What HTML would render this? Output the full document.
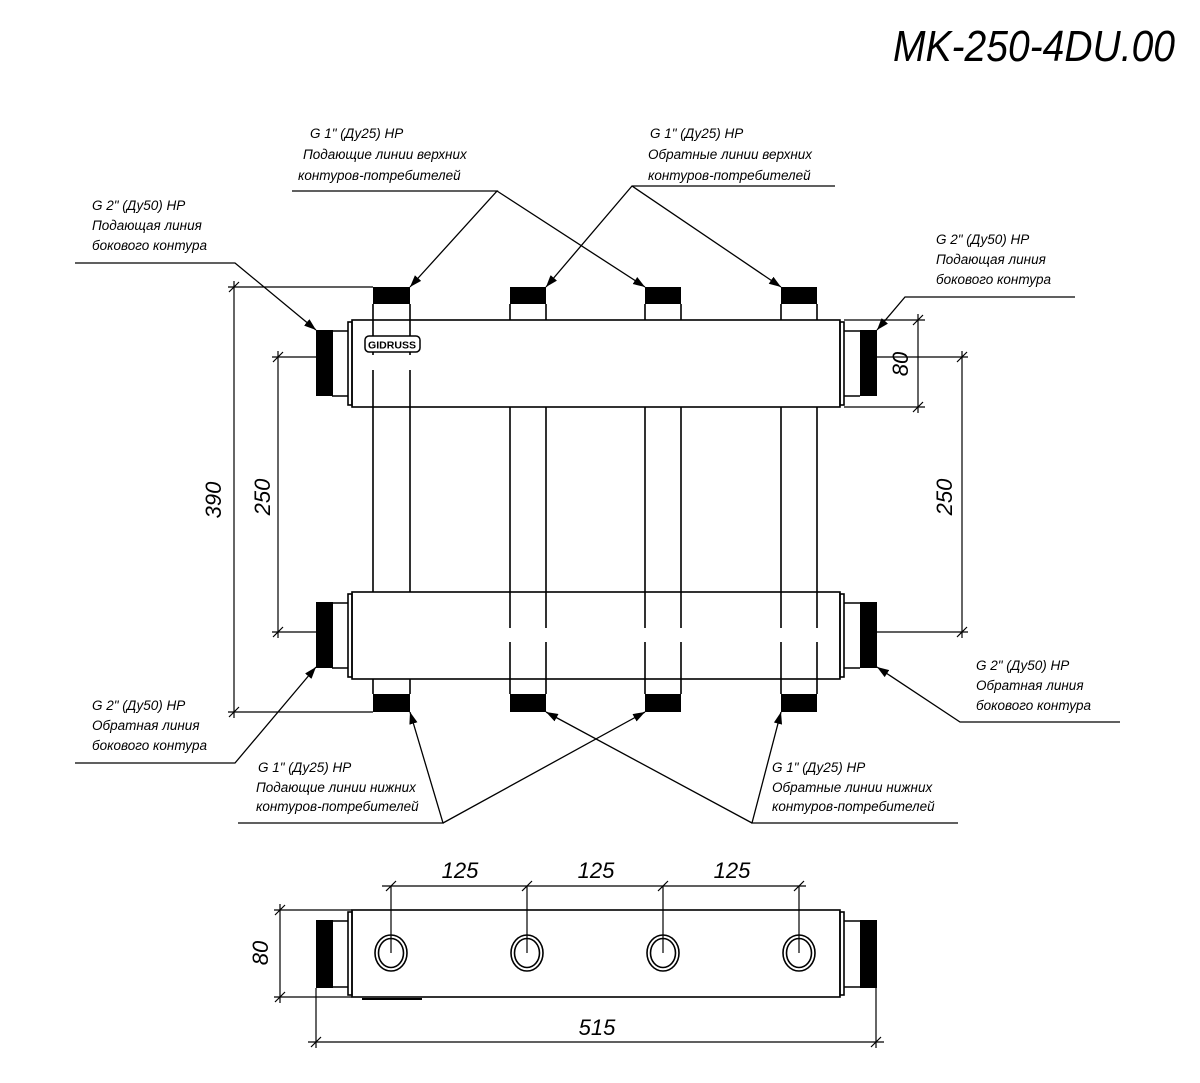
<!DOCTYPE html>
<html><head><meta charset="utf-8"><style>
html,body{margin:0;padding:0;background:#fff;}
svg{display:block;}
text{font-family:"Liberation Sans","DejaVu Sans",sans-serif;font-style:italic;fill:#000;}
.t{font-size:13.5px;}
.d{font-size:22px;}
</style></head><body>
<svg width="1200" height="1083" viewBox="0 0 1200 1083" xmlns="http://www.w3.org/2000/svg">
<defs>
<marker id="a" viewBox="0 0 10 10" refX="10" refY="5" markerWidth="12" markerHeight="12" markerUnits="userSpaceOnUse" orient="auto"><path d="M0,1.5 L10,5 L0,8.5 z" fill="#000"/></marker>
</defs>
<text x="893" y="61" font-size="44" textLength="282" lengthAdjust="spacingAndGlyphs" style="font-weight:normal">MK-250-4DU.00</text>

<g stroke="#000" stroke-width="1.6" fill="none">
<rect x="352" y="320" width="488" height="87" fill="#fff"/>
<rect x="348" y="322" width="4" height="83"/>
<rect x="840" y="322" width="4" height="83"/>
<rect x="352" y="592" width="488" height="87" fill="#fff"/>
<rect x="348" y="594" width="4" height="83"/>
<rect x="840" y="594" width="4" height="83"/>
<path d="M332,331 H348 M332,396 H348 M844,331 H860 M844,396 H860 M332,603 H348 M332,668 H348 M844,603 H860 M844,668 H860"/>
</g>
<g fill="#000">
<rect x="316" y="330" width="17" height="66"/>
<rect x="860" y="330" width="17" height="66"/>
<rect x="316" y="602" width="17" height="66"/>
<rect x="860" y="602" width="17" height="66"/>
<rect x="373" y="287" width="37" height="17"/>
<rect x="510" y="287" width="36" height="17"/>
<rect x="645" y="287" width="36" height="17"/>
<rect x="781" y="287" width="36" height="17"/>
<rect x="373" y="694" width="37" height="18"/>
<rect x="510" y="694" width="36" height="18"/>
<rect x="645" y="694" width="36" height="18"/>
<rect x="781" y="694" width="36" height="18"/>
</g>
<g stroke="#000" stroke-width="1.6">
<path d="M373,304 V355 M373,370 V592 M373,679 V694 M410,304 V355 M410,370 V592 M410,679 V694"/>
<path d="M510,304 V320 M510,407 V628 M510,642 V694 M546,304 V320 M546,407 V628 M546,642 V694"/>
<path d="M645,304 V320 M645,407 V628 M645,642 V694 M681,304 V320 M681,407 V628 M681,642 V694"/>
<path d="M781,304 V320 M781,407 V628 M781,642 V694 M817,304 V320 M817,407 V628 M817,642 V694"/>
</g>
<rect x="365" y="336" width="55" height="16" rx="4" fill="#fff" stroke="#000" stroke-width="1.5"/>
<text x="368" y="348.5" font-size="10" style="font-weight:bold;font-style:normal" textLength="48" lengthAdjust="spacingAndGlyphs">GIDRUSS</text>

<g stroke="#000" stroke-width="1.2" fill="none">
<path d="M228,287 H373 M228,712 H373 M234,281 V718"/>
<path d="M229,292 L239,282 M229,717 L239,707"/>
<path d="M272,357 H316 M272,632 H316 M278,351 V638"/>
<path d="M273,362 L283,352 M273,637 L283,627"/>
<path d="M844,320 H925 M844,407 H925 M918,314 V413"/>
<path d="M913,325 L923,315 M913,412 L923,402"/>
<path d="M877,357 H968 M877,632 H968 M962,351 V638"/>
<path d="M957,362 L967,352 M957,637 L967,627"/>
</g>
<text class="d" transform="translate(221,500) rotate(-90)" text-anchor="middle">390</text>
<text class="d" transform="translate(270,497) rotate(-90)" text-anchor="middle">250</text>
<text class="d" transform="translate(908,364) rotate(-90)" text-anchor="middle">80</text>
<text class="d" transform="translate(952,497) rotate(-90)" text-anchor="middle">250</text>

<g stroke="#000" stroke-width="1.3" fill="none">
<path d="M75,263 H235 L316,330" marker-end="url(#a)"/>
<path d="M292,191 H497 L410,287" marker-end="url(#a)"/>
<path d="M497,191 L645,287" marker-end="url(#a)"/>
<path d="M835,186 H632 L546,287" marker-end="url(#a)"/>
<path d="M632,186 L781,287" marker-end="url(#a)"/>
<path d="M1075,297 H905 L877,330" marker-end="url(#a)"/>
<path d="M75,763 H235 L316,667" marker-end="url(#a)"/>
<path d="M238,823 H443 L410,712" marker-end="url(#a)"/>
<path d="M443,823 L645,712" marker-end="url(#a)"/>
<path d="M958,823 H752 L781,712" marker-end="url(#a)"/>
<path d="M752,823 L546,712" marker-end="url(#a)"/>
<path d="M1120,722 H960 L877,667" marker-end="url(#a)"/>
</g>
<text class="t" x="92" y="210">G 2" (Ду50) НР</text>
<text class="t" x="92" y="230">Подающая линия</text>
<text class="t" x="92" y="250">бокового контура</text>
<text class="t" x="310" y="138">G 1" (Ду25) НР</text>
<text class="t" x="303" y="159">Подающие линии верхних</text>
<text class="t" x="298" y="180">контуров-потребителей</text>
<text class="t" x="650" y="138">G 1" (Ду25) НР</text>
<text class="t" x="648" y="159">Обратные линии верхних</text>
<text class="t" x="648" y="180">контуров-потребителей</text>
<text class="t" x="936" y="244">G 2" (Ду50) НР</text>
<text class="t" x="936" y="264">Подающая линия</text>
<text class="t" x="936" y="284">бокового контура</text>
<text class="t" x="92" y="710">G 2" (Ду50) НР</text>
<text class="t" x="92" y="730">Обратная линия</text>
<text class="t" x="92" y="750">бокового контура</text>
<text class="t" x="258" y="772">G 1" (Ду25) НР</text>
<text class="t" x="256" y="792">Подающие линии нижних</text>
<text class="t" x="256" y="811">контуров-потребителей</text>
<text class="t" x="772" y="772">G 1" (Ду25) НР</text>
<text class="t" x="772" y="792">Обратные линии нижних</text>
<text class="t" x="772" y="811">контуров-потребителей</text>
<text class="t" x="976" y="670">G 2" (Ду50) НР</text>
<text class="t" x="976" y="690">Обратная линия</text>
<text class="t" x="976" y="710">бокового контура</text>

<g stroke="#000" stroke-width="1.6" fill="none">
<rect x="352" y="910" width="488" height="87" fill="#fff"/>
<rect x="348" y="912" width="4" height="83"/>
<rect x="840" y="912" width="4" height="83"/>
<path d="M332,921 H348 M332,987 H348 M844,921 H860 M844,987 H860"/>
<path d="M362,999 H422" stroke-width="2"/>
<ellipse cx="391" cy="953" rx="16" ry="18"/><ellipse cx="391" cy="953" rx="12.5" ry="14.5"/>
<ellipse cx="527" cy="953" rx="16" ry="18"/><ellipse cx="527" cy="953" rx="12.5" ry="14.5"/>
<ellipse cx="663" cy="953" rx="16" ry="18"/><ellipse cx="663" cy="953" rx="12.5" ry="14.5"/>
<ellipse cx="799" cy="953" rx="16" ry="18"/><ellipse cx="799" cy="953" rx="12.5" ry="14.5"/>
</g>
<g fill="#000">
<rect x="316" y="920" width="17" height="68"/>
<rect x="860" y="920" width="17" height="68"/>
</g>
<g stroke="#000" stroke-width="1.2" fill="none">
<path d="M382,886 H806 M391,886 V953 M527,886 V953 M663,886 V953 M799,886 V953"/>
<path d="M386,891 L396,881 M522,891 L532,881 M658,891 L668,881 M794,891 L804,881"/>
<path d="M274,910 H352 M274,997 H352 M280,904 V1003"/>
<path d="M275,915 L285,905 M275,1002 L285,992"/>
<path d="M316,988 V1048 M876,988 V1048 M308,1042 H884"/>
<path d="M311,1047 L321,1037 M871,1047 L881,1037"/>
</g>
<text class="d" x="460" y="878" text-anchor="middle">125</text>
<text class="d" x="596" y="878" text-anchor="middle">125</text>
<text class="d" x="732" y="878" text-anchor="middle">125</text>
<text class="d" transform="translate(268,953) rotate(-90)" text-anchor="middle">80</text>
<text class="d" x="597" y="1035" text-anchor="middle">515</text>
</svg>
</body></html>
